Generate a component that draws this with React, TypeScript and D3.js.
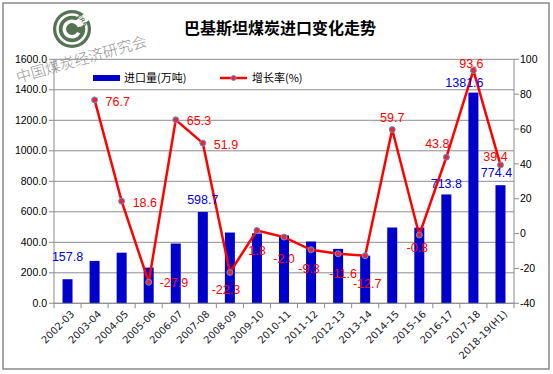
import React from "react";
import * as d3 from "d3";

const categories = ["2002-03","2003-04","2004-05","2005-06","2006-07","2007-08","2008-09","2009-10","2010-11","2011-12","2012-13","2013-14","2014-15","2015-16","2016-17","2017-18","2018-19(H1)"];
const imports = [157.8, 278, 332, 234, 392, 598.7, 464, 458, 445, 405, 357, 312, 497, 496, 713.8, 1381.6, 774.4];
const growth: (number | null)[] = [null, 76.7, 18.6, -27.9, 65.3, 51.9, -22.3, 1.8, -2.0, -9.3, -11.6, -12.7, 59.7, -0.8, 43.8, 93.6, 39.4];
const importLabelShown = [true, false, false, false, false, true, false, false, false, false, false, false, false, false, true, true, true];
const leftTicks = [0, 200, 400, 600, 800, 1000, 1200, 1400, 1600];
const rightTicks = [-40, -20, 0, 20, 40, 60, 80, 100];

// label placement (layout only)
const growthLabelPos: [number, number, string][] = [
  [0, 0, "middle"], [11, 2, "start"], [11, 1, "start"], [11, 0, "start"], [11, 1, "start"], [11, 1, "start"],
  [-4, 17, "middle"], [0, 20, "middle"], [0, 22, "middle"], [-2, 19, "middle"], [5, 19.5, "middle"],
  [2, 28, "middle"], [0, -12, "middle"], [-2, 13, "middle"], [-9, -14, "middle"], [-2, -7, "middle"], [-5, -8, "middle"],
];
const importLabelPos: [number, number][] = [
  [0, -22.5], [0, -12], [0, -12], [0, -12], [0, -12], [0, -12], [0, -12], [0, -12], [0, -12], [0, -12], [0, -12],
  [0, -12], [0, -12], [0, -12], [0, -10.5], [-9, -10], [-4, -13],
];

const W = 553, H = 374;
const plot = { left: 54, right: 514, top: 59.3, bottom: 303.3 };
const font = "'Liberation Sans', Arial, sans-serif";
const axisFont = "'DejaVu Sans', Verdana, sans-serif";

export default function App() {
  const x = d3.scaleBand<string>().domain(categories).range([plot.left, plot.right]).paddingInner(0).paddingOuter(0);
  const yL = d3.scaleLinear().domain([0, 1600]).range([plot.bottom, plot.top]);
  const yR = d3.scaleLinear().domain([-40, 100]).range([plot.bottom, plot.top]);
  const barW = 10;
  const cx = (c: string) => (x(c) ?? 0) + x.bandwidth() / 2;

  const linePts = categories.map((c, i) => ({ c, v: growth[i], i })).filter(d => d.v !== null) as { c: string; v: number; i: number }[];
  const line = d3.line<{ c: string; v: number }>().x(d => cx(d.c)).y(d => yR(d.v));

  const grid = "#8c8c8c";
  const green = "#557352";
  const cArc = d3.arc()({ innerRadius: 6, outerRadius: 9.5, startAngle: 0.5, endAngle: Math.PI * 2 - 0.3 } as any) ?? "";
  return (
    <svg width={W} height={H} style={{ position: "fixed", left: 0, top: 0, background: "#fff" }} fontFamily={font}>
      <rect x={3} y={3} width={546} height={366} fill="#fff" stroke="#8a8a8a" strokeWidth={1.5} />

      {/* logo */}
      <g transform="translate(72,29)">
        <circle r={19} fill={green} />
        <circle r={14.5} fill="none" stroke="#fff" strokeWidth={2.5} />
        <path d={cArc} fill="#fff" transform="rotate(90)" />
        <g transform="rotate(-40)">
          <rect x={8} y={-4} width={12} height={8} fill="#fff" />
          <text x={14} y={0} dy="0.35em" textAnchor="middle" fontSize={6} fill={green} fontWeight="bold" transform="rotate(90,14,0)">ERA</text>
        </g>
      </g>
      <text x={18} y={83} fontSize={15} fill="#8a8a8a" opacity={0.9} fontFamily="'Noto Sans CJK SC', serif" fontWeight={300} transform="rotate(-16,18,83)">中国煤炭经济研究会</text>

      {/* title */}
      <text x={280} y={34} textAnchor="middle" fontSize={16} fontWeight="bold" fill="#000" fontFamily="'Noto Sans CJK SC', sans-serif">巴基斯坦煤炭进口变化走势</text>

      {/* gridlines */}
      {leftTicks.map(t => (
        <line key={"g" + t} x1={plot.left} x2={plot.right} y1={yL(t)} y2={yL(t)} stroke={grid} strokeWidth={1} />
      ))}
      {/* axes */}
      <line x1={plot.left} x2={plot.left} y1={plot.top} y2={plot.bottom} stroke={grid} />
      <line x1={plot.right} x2={plot.right} y1={plot.top} y2={plot.bottom} stroke={grid} />
      {leftTicks.map(t => (
        <g key={"lt" + t}>
          <line x1={plot.left - 5} x2={plot.left} y1={yL(t)} y2={yL(t)} stroke={grid} />
          <text x={plot.left - 7} y={yL(t)} dy="0.35em" textAnchor="end" fontSize={10.5} fill="#000">{t.toFixed(1)}</text>
        </g>
      ))}
      {rightTicks.map(t => (
        <g key={"rt" + t}>
          <line x1={plot.right} x2={plot.right + 5} y1={yR(t)} y2={yR(t)} stroke={grid} />
          <text x={plot.right + 6} y={yR(t)} dy="0.35em" textAnchor="start" fontSize={10.5} fill="#000">{t}</text>
        </g>
      ))}
      {/* x ticks */}
      {categories.map(c => (
        <line key={"xt" + c} x1={x(c)!} x2={x(c)!} y1={plot.bottom} y2={plot.bottom + 5} stroke={grid} />
      ))}
      <line x1={plot.right} x2={plot.right} y1={plot.bottom} y2={plot.bottom + 5} stroke={grid} />

      {/* bars */}
      {categories.map((c, i) => (
        <rect key={"b" + c} x={cx(c) - barW / 2} y={yL(imports[i])} width={barW} height={plot.bottom - yL(imports[i])} fill="#0000cc" />
      ))}
      <line x1={plot.left} x2={plot.right} y1={plot.bottom} y2={plot.bottom} stroke={grid} />

      {/* x labels */}
      {categories.map(c => (
        <text key={"xl" + c} transform={`translate(${cx(c) + 5},${plot.bottom + 9}) rotate(-45)`} textAnchor="end" dy="0.35em" fontSize={10} fontFamily={axisFont} fill="#1a1a2a">{c}</text>
      ))}

      {/* line */}
      <path d={line(linePts) ?? ""} fill="none" stroke="#ff0000" strokeWidth={2.5} />
      {linePts.map(d => (
        <circle key={"p" + d.c} cx={cx(d.c)} cy={yR(d.v)} r={3} fill="#e02a3a" stroke="#6f8fcf" strokeWidth={1} />
      ))}

      {/* import labels */}
      {categories.map((c, i) => importLabelShown[i] ? (
        <text key={"il" + c} x={cx(c) + importLabelPos[i][0]} y={yL(imports[i]) + importLabelPos[i][1]} dy="0.35em" textAnchor="middle" fontSize={12.5} fill="#0000dd">{imports[i].toFixed(1)}</text>
      ) : null)}
      {/* growth labels */}
      {linePts.map(d => (
        <text key={"gl" + d.c} x={cx(d.c) + growthLabelPos[d.i][0]} y={yR(d.v) + growthLabelPos[d.i][1]} dy="0.35em" textAnchor={growthLabelPos[d.i][2] as any} fontSize={12.5} fill="#ff0000">{d.v.toFixed(1)}</text>
      ))}

      {/* legend */}
      <rect x={93} y={75} width={27} height={6} fill="#0000cc" />
      <text x={124} y={78} dy="0.35em" fontSize={11} fill="#000" fontFamily="'Noto Sans CJK SC', sans-serif">进口量(万吨)</text>
      <line x1={220} x2={247} y1={78} y2={78} stroke="#ff0000" strokeWidth={2.5} />
      <circle cx={233.5} cy={78} r={2.5} fill="#e02a3a" stroke="#6f8fcf" strokeWidth={1} />
      <text x={252} y={78} dy="0.35em" fontSize={11} fill="#000" fontFamily="'Noto Sans CJK SC', sans-serif">增长率(%)</text>
    </svg>
  );
}
